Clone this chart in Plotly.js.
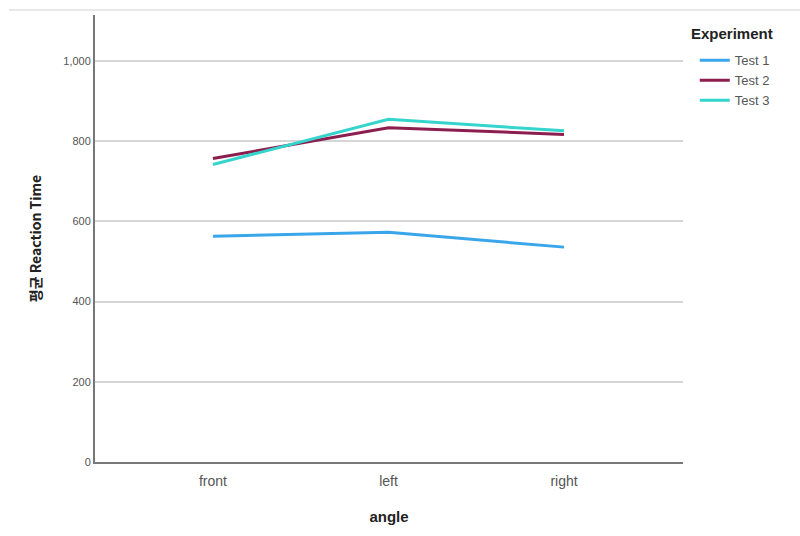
<!DOCTYPE html>
<html>
<head>
<meta charset="utf-8">
<script src="https://cdn.plot.ly/plotly-3.0.1.min.js"></script>
<style>
  html, body { margin: 0; padding: 0; background: #fff; }
  #chart { width: 800px; height: 536px; }
</style>
</head>
<body>
<div id="chart"></div>
<script>
var angle = ['front', 'left', 'right'];
var test1 = [563, 573, 536];
var test2 = [757, 834, 817];
var test3 = [742, 855, 826];
var yTicks = [0, 200, 400, 600, 800, 1000];

function line(name, y, color) {
  return {
    x: angle,
    y: y,
    name: name,
    type: 'scatter',
    mode: 'lines',
    line: { color: color, width: 3 },
    hoverinfo: 'x+y+name'
  };
}

var data = [
  line('Test 1', test1, '#3aa6ea'),
  line('Test 2', test2, '#8c1d4f'),
  line('Test 3', test3, '#35d4cc')
];

var layout = {
  width: 800,
  height: 536,
  margin: { l: 95, r: 117, t: 15, b: 74, autoexpand: false },
  paper_bgcolor: '#fff',
  plot_bgcolor: '#fff',
  font: { family: 'Liberation Sans, Arial, sans-serif', color: '#333' },
  xaxis: {
    type: 'category',
    range: [-0.672, 2.678],
    showline: true,
    linecolor: '#777',
    linewidth: 2,
    showgrid: false,
    ticks: '',
    ticklabelstandoff: 5,
    tickfont: { size: 14, color: '#555' },
    title: { text: '<b>angle</b>', font: { size: 15, color: '#222' }, standoff: 24 }
  },
  yaxis: {
    range: [0, 1115],
    tickvals: yTicks,
    ticktext: yTicks.map(function (v) { return v.toLocaleString('en-US'); }),
    showline: true,
    linecolor: '#777',
    linewidth: 2,
    showgrid: true,
    gridcolor: '#d6d6d6',
    gridwidth: 1.5,
    zeroline: false,
    ticks: '',
    tickfont: { size: 11, color: '#555' },
    title: { text: '<b>평균 Reaction Time</b>', font: { family: 'Noto Sans CJK KR, Liberation Sans, sans-serif', size: 14, color: '#222' }, standoff: 18 }
  },
  legend: {
    x: 1.02,
    xanchor: 'left',
    y: 0.932,
    yanchor: 'top',
    bgcolor: 'rgba(0,0,0,0)',
    font: { size: 13, color: '#555' },
    tracegroupgap: 0
  },
  annotations: [{
    text: '<b>Experiment</b>',
    xref: 'paper', yref: 'paper',
    x: 1.011, y: (462 - 33) / 447,
    xanchor: 'left', yanchor: 'middle',
    showarrow: false,
    font: { size: 15, color: '#222' }
  }],
  shapes: [{
    type: 'line', xref: 'paper', yref: 'paper',
    x0: -0.146, x1: 1.2, y0: 1.011, y1: 1.011,
    line: { color: '#e0e0e0', width: 1.5 }
  }],
  showlegend: true
};

Plotly.newPlot('chart', data, layout, { displayModeBar: false });
</script>
</body>
</html>
